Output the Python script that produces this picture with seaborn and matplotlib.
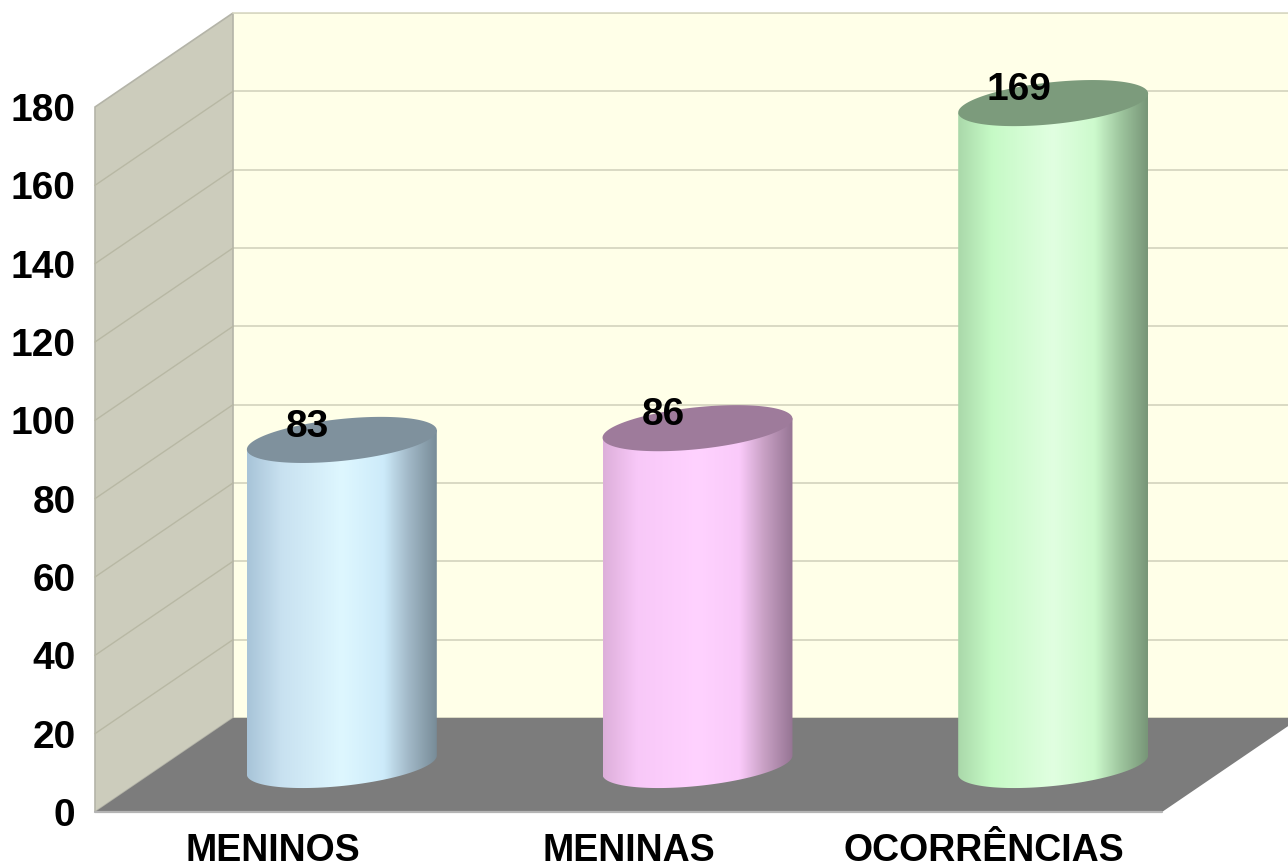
import numpy as np
import pandas as pd
import seaborn as sns
import matplotlib.pyplot as plt
from matplotlib.colors import LinearSegmentedColormap
from matplotlib.patches import PathPatch, Polygon
from matplotlib.path import Path

# Valeurs du graphique
categorias = ['MENINOS', 'MENINAS', 'OCORRÊNCIAS']
valores = [83, 86, 169]
ticks = [0, 20, 40, 60, 80, 100, 120, 140, 160, 180]

# Couleurs des cylindres : dégradé du corps et dessus
cores = ['#DEF7FF', '#FFD2FF', '#E1FFE1']
cores_topo = ['#7F919D', '#9E7B9B', '#7C9B7C']
posicoes = [0.0, 0.18, 0.5, 0.72, 0.85, 1.0]
degrades = [
    ['#A8C4D8', '#C8E1F0', '#DEF7FF', '#CDEBFA', '#A2B9C8', '#788C98'],
    ['#DDAFDA', '#F8C8F8', '#FFD2FF', '#FACAFA', '#C8A0C4', '#967594'],
    ['#AAD8AA', '#C6FAC6', '#E1FFE1', '#CDFACD', '#A0C8A0', '#789678'],
]

W, H = 1288, 868


def rect_px(left, top, right, bottom):
    """Position d'un axe donnée en pixels de l'image."""
    return [left / W, 1 - bottom / H, (right - left) / W, (bottom - top) / H]


def ellipse_inclinee(xc, yc, demi_largeur, t):
    """Points d'une ellipse cisaillée : le bord droit est plus haut que le gauche."""
    x = demi_largeur * np.cos(t)
    y = 21 * np.sin(t) - 0.1 * x
    return np.column_stack([xc + x, yc + y])


sns.set_theme(style='white')
plt.rcParams['font.family'] = ['Liberation Sans', 'DejaVu Sans']
plt.rcParams['font.weight'] = 'bold'

fig = plt.figure(figsize=(W / 100, H / 100), dpi=100)

# Mur du fond avec sa grille
ax_back = fig.add_axes(rect_px(233, 13, 1300, 718), zorder=0)
ax_back.set_facecolor('#FFFFE8')
ax_back.set_xlim(0, 1)
ax_back.set_ylim(0, 180)
ax_back.set_xticks([])
ax_back.set_yticks(ticks)
ax_back.tick_params(left=False, labelleft=False)
ax_back.grid(axis='y', color='#D9D9C3', linewidth=1.4)
sns.despine(ax=ax_back, left=True, bottom=True, right=True, top=True)

# Mur de gauche et sol, en coordonnées pixels
ax_px = fig.add_axes([0, 0, 1, 1], zorder=1)
ax_px.set_xlim(0, W)
ax_px.set_ylim(H, 0)
ax_px.axis('off')
ax_px.add_patch(Polygon([(95, 107), (233, 13), (233, 718), (95, 812)],
                        facecolor='#CCCCBC', edgecolor='#B4B4A8', linewidth=1.2))
ax_px.add_patch(Polygon([(95, 812), (233, 718), (1300, 718), (1162, 812)],
                        facecolor='#7C7C7C', edgecolor='none'))
ax_px.plot([233, 1288], [13, 13], color='#D9D9C3', linewidth=1.2)
ax_px.plot([95, 1162], [812, 812], color='#B4B4B4', linewidth=1.6)
for t in ticks[1:-1]:
    y_front = 812 - t * 705 / 180
    ax_px.plot([95, 233], [y_front, y_front - 94], color='#B8B8A4', linewidth=1)

# Axe de devant : seulement les graduations et les noms
ax = fig.add_axes(rect_px(95, 107, 1162, 812), zorder=2)
ax.patch.set_alpha(0)
ax.set_xlim(-0.5, 2.5)
ax.set_ylim(0, 180)
ax.set_yticks(ticks)
ax.set_xticks(range(len(categorias)))
ax.set_xticklabels(categorias)
ax.tick_params(axis='both', length=0, labelcolor='black')
ax.tick_params(axis='y', pad=14, labelsize=28)
ax.tick_params(axis='x', pad=15, labelsize=27)
sns.despine(ax=ax, left=True, bottom=True)

# Barres, décalées d'une demi-profondeur
ax_bars = fig.add_axes(rect_px(164, 60, 1231, 765), zorder=3)
df = pd.DataFrame({'categoria': categorias, 'valor': valores})
sns.barplot(data=df, x='categoria', y='valor', hue='categoria', palette=cores,
            width=0.534, legend=False, ax=ax_bars)
ax_bars.set_xlim(-0.5, 2.5)
ax_bars.set_ylim(0, 180)
ax_bars.axis('off')

# Cylindres dessinés par-dessus à partir des barres seaborn
ax_top = fig.add_axes([0, 0, 1, 1], zorder=4)
ax_top.set_xlim(0, W)
ax_top.set_ylim(H, 0)
ax_top.axis('off')
ax_top.patch.set_alpha(0)

for bar, stops, topo, valor in zip(ax_bars.patches, degrades, cores_topo, valores):
    disp = ax_bars.transData.transform([(bar.get_x(), 0),
                                        (bar.get_x() + bar.get_width(), bar.get_height())])
    (x0, y0), (x1, y1) = ax_top.transData.inverted().transform(disp)
    bar.set_visible(False)
    xc = (x0 + x1) / 2
    demi = (x1 - x0) / 2

    degrade = LinearSegmentedColormap.from_list('cyl', list(zip(posicoes, stops)))
    # contour : bord gauche, demi-ellipse du bas, bord droit
    bas = ellipse_inclinee(xc, y0, demi, np.linspace(np.pi, 0, 80))
    contour = np.vstack([[(x0, y1 + 10)], bas, [(x1, y1 - 10)], [(x0, y1 + 10)]])
    im = ax_top.imshow(np.linspace(0, 1, 256)[None, :], cmap=degrade, aspect='auto',
                       extent=(x0, x1, y0 + 30, y1 - 15), zorder=2)
    im.set_clip_path(Path(contour), ax_top.transData)

    haut = ellipse_inclinee(xc, y1, demi, np.linspace(0, 2 * np.pi, 160))
    ax_top.add_patch(PathPatch(Path(haut), facecolor=topo, edgecolor='none', zorder=3))
    ax_top.text(xc - 34, y1 - 13, str(valor), fontsize=28, fontweight='bold',
                color='black', ha='center', va='center', zorder=4)

ax_top.set_xlim(0, W)
ax_top.set_ylim(H, 0)

plt.savefig('out.png', dpi=100)
plt.close()
